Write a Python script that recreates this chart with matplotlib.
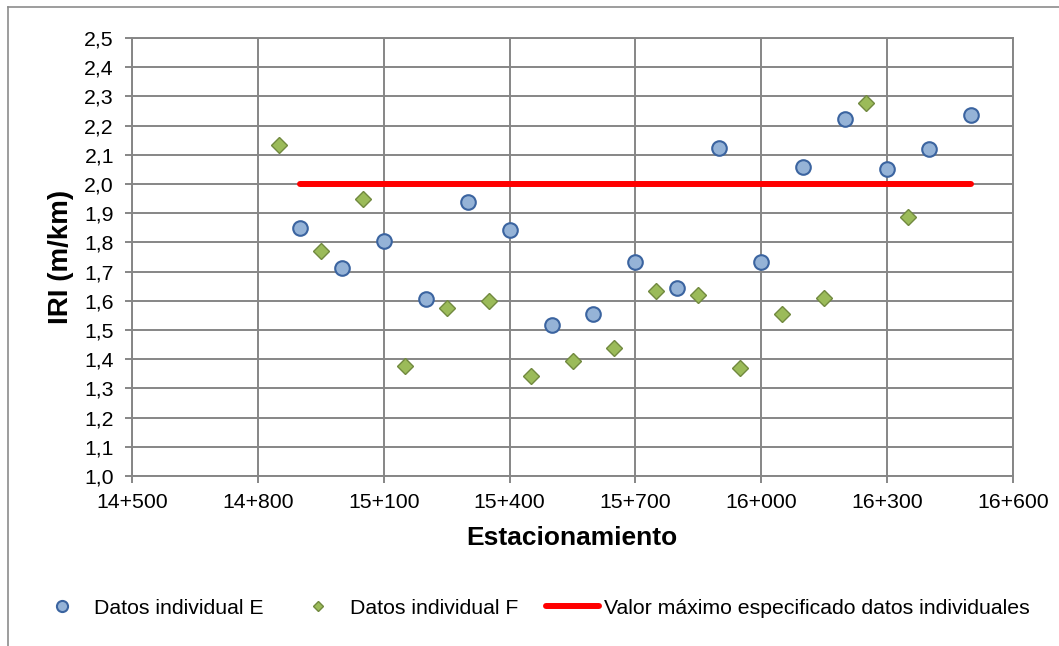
import matplotlib
matplotlib.use("Agg")
import matplotlib.pyplot as plt
from matplotlib.lines import Line2D
from matplotlib.ticker import FuncFormatter, MultipleLocator

plt.rcParams["font.family"] = ["Liberation Sans", "DejaVu Sans"]

# Datos individual E (estacion, IRI)
est_e = [14900, 15000, 15100, 15200, 15300, 15400, 15500, 15600, 15700,
         15800, 15900, 16000, 16100, 16200, 16300, 16400, 16500]
iri_e = [1.849, 1.712, 1.805, 1.606, 1.938, 1.842, 1.517, 1.555, 1.733,
         1.644, 2.123, 1.733, 2.058, 2.224, 2.051, 2.12, 2.235]

# Datos individual F
est_f = [14850, 14950, 15050, 15150, 15250, 15350, 15450, 15550, 15650,
         15750, 15850, 15950, 16050, 16150, 16250, 16350]
iri_f = [2.134, 1.771, 1.947, 1.377, 1.575, 1.599, 1.342, 1.394, 1.438,
         1.634, 1.620, 1.370, 1.555, 1.610, 2.278, 1.888]

# Valor maximo especificado
est_lim = [14900, 16500]
iri_lim = [2.0, 2.0]

x_ticks = [14500, 14800, 15100, 15400, 15700, 16000, 16300, 16600]

grid_c = "#868686"
W, H = 1059, 646

fig = plt.figure(figsize=(W / 100, H / 100), dpi=100)
ax = fig.add_axes([132 / W, 1 - 476 / H, (1013 - 132) / W, (476 - 38) / H])

ax.plot(est_lim, iri_lim, color="#FF0000", lw=4.3, solid_capstyle="round", zorder=3)
ax.plot(est_e, iri_e, "o", ms=10.5, mfc="#95B3D7", mec="#3B64A0", mew=1.5, zorder=4)
ax.plot(est_f, iri_f, "D", ms=8.5, mfc="#9BBB59", mec="#71893F", mew=1.0, zorder=4)

ax.set_xlim(14500, 16600)
ax.set_ylim(1.0, 2.5)
ax.set_xticks(x_ticks)
ax.yaxis.set_major_locator(MultipleLocator(0.1))
ax.xaxis.set_major_formatter(FuncFormatter(lambda v, p: f"{int(round(v)) // 1000}+{int(round(v)) % 1000:03d}"))
ax.yaxis.set_major_formatter(FuncFormatter(lambda v, p: f"{v:.1f}".replace(".", ",")))
ax.grid(True, color=grid_c, lw=1.4)
ax.set_axisbelow(True)
for s in ax.spines.values():
    s.set_color(grid_c)
    s.set_linewidth(1.4)
ax.tick_params(colors="black", labelsize=15.3, length=5, width=1.4, color=grid_c)
ax.tick_params(axis="x", pad=7)
ax.tick_params(axis="y", pad=8)

fig.text(572 / W, 1 - 538 / H, "Estacionamiento", fontsize=19, fontweight="bold",
         ha="center", va="center")
fig.text(61 / W, 1 - 257 / H, "IRI (m/km)", fontsize=20, fontweight="bold",
         ha="center", va="center", rotation=90)

handles = [
    Line2D([], [], ls="", marker="o", ms=8, mfc="#95B3D7", mec="#3B64A0", mew=1.5),
    Line2D([], [], ls="", marker="D", ms=5.5, mfc="#9BBB59", mec="#71893F", mew=1.0),
    Line2D([], [], color="#FF0000", lw=4.3, solid_capstyle="round"),
]
labels = ["Datos individual E", "Datos individual F",
          "Valor máximo especificado datos individuales"]
fig.legend(handles, labels, loc="center", bbox_to_anchor=(533 / W, 1 - 608 / H),
           ncol=3, frameon=False, fontsize=15.3, handlelength=2.5,
           handletextpad=0.25, columnspacing=1.3, borderpad=0, borderaxespad=0)

# marco del grafico
fig.add_artist(Line2D([8 / W, 8 / W], [0, 1 - 7 / H], color="#8C8C8C", lw=1.2,
                      transform=fig.transFigure))
fig.add_artist(Line2D([8 / W, 1], [1 - 7 / H, 1 - 7 / H], color="#8C8C8C", lw=1.2,
                      transform=fig.transFigure))

fig.savefig("out.png", dpi=100)
